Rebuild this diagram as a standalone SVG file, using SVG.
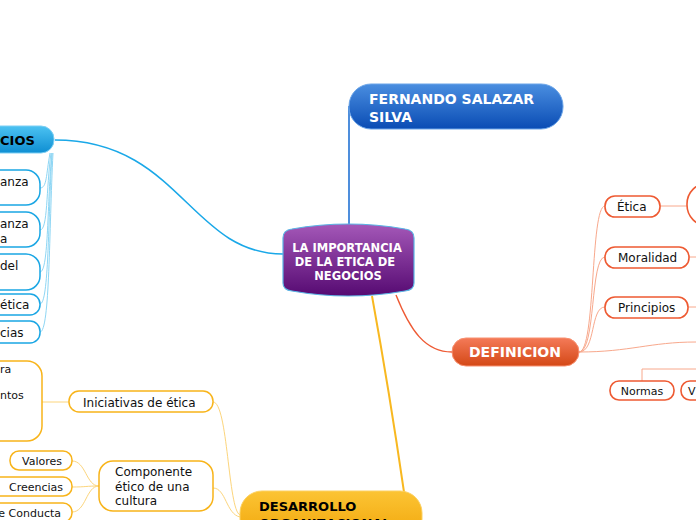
<svg xmlns="http://www.w3.org/2000/svg" width="696" height="520" viewBox="0 0 696 520">
<defs>
<linearGradient id="gPurple" x1="0" y1="0" x2="0" y2="1"><stop offset="0" stop-color="#a458b8"/><stop offset="1" stop-color="#560a72"/></linearGradient>
<linearGradient id="gBlue" x1="0" y1="0" x2="0" y2="1"><stop offset="0" stop-color="#4a8ee0"/><stop offset="1" stop-color="#0a4cb4"/></linearGradient>
<linearGradient id="gCyan" x1="0" y1="0" x2="0" y2="1"><stop offset="0" stop-color="#4cc2f2"/><stop offset="1" stop-color="#0e8ed2"/></linearGradient>
<linearGradient id="gOrange" x1="0" y1="0" x2="0" y2="1"><stop offset="0" stop-color="#f47a58"/><stop offset="1" stop-color="#d44816"/></linearGradient>
<linearGradient id="gYellow" x1="0" y1="0" x2="0" y2="1"><stop offset="0" stop-color="#fcc434"/><stop offset="1" stop-color="#f0a408"/></linearGradient>
</defs>
<style>
text{font-family:"DejaVu Sans","Liberation Sans",sans-serif;}
.w{fill:#fff;font-weight:bold;}
.k{fill:#000;font-weight:bold;}
.t{fill:#111;font-size:12px;}
.s{fill:#111;font-size:11px;}
.bc{fill:#fff;stroke:#1aa6e4;stroke-width:1.5;}
.bo{fill:#fff;stroke:#ee5a32;stroke-width:1.6;}
.by{fill:#fff;stroke:#f8b41a;stroke-width:1.5;}
.lc{fill:none;stroke:#8ed6f4;stroke-width:1;}
.lo{fill:none;stroke:#f8a88c;stroke-width:1;}
.ly{fill:none;stroke:#fcd57c;stroke-width:1;}
</style>
<g id="connectors">
<path d="M349,224 L349,106" fill="none" stroke="#2272d4" stroke-width="1.6"/>
<path d="M55,140 C180,140 190,254 283,254" fill="none" stroke="#1aa8e8" stroke-width="1.5"/>
<path d="M396,295 C410,330 425,352 452,352" fill="none" stroke="#ee5a34" stroke-width="1.4"/>
<path d="M372,296 C380,340 395,430 404,492" fill="none" stroke="#f8b820" stroke-width="2"/>
<path class="lc" d="M50,153 C46,175 47,188 40,188"/>
<path class="lc" d="M51,153 C46,190 48,230 40,230"/>
<path class="lc" d="M52,153 C47,200 49,272 40,272"/>
<path class="lc" d="M52,153 C48,220 49,304 40,304"/>
<path class="lc" d="M53,153 C49,230 50,332 40,332"/>
<path class="lo" d="M579,352 C596,352 590,206 605,206"/>
<path class="lo" d="M579,352 C596,352 590,257 605,257"/>
<path class="lo" d="M579,352 C596,352 590,307 605,307"/>
<path class="lo" d="M579,352 C630,352 650,342 696,342"/>
<path class="lo" d="M660,206 L687,206"/>
<path class="lo" d="M689,257 L696,257"/>
<path class="lo" d="M688,307 L696,307"/>
<path class="lo" d="M696,369 L642,369 L642,381"/>
<path class="ly" d="M42,402 L69,402"/>
<path class="ly" d="M213,402 C228,402 228,510 240,515"/>
<path class="ly" d="M213,488 C226,488 226,514 240,517"/>
<path class="ly" d="M72,461 C86,461 86,486 99,486"/>
<path class="ly" d="M72,487 C86,487 86,486 99,486"/>
<path class="ly" d="M72,512 C86,512 86,486 99,486"/>
</g>
<g id="central">
<path d="M283,238 Q283,230 292,229 Q348,219 405,229 Q414,230 414,238 L414,283 Q414,290 405,291 Q348,301 292,291 Q283,290 283,283 Z" fill="url(#gPurple)" stroke="#5ab4e4" stroke-width="1.2"/>
<text class="w" font-size="11.5" text-anchor="middle" x="347" y="252">LA IMPORTANCIA</text>
<text class="w" font-size="11.5" text-anchor="middle" x="345" y="266">DE LA ETICA DE</text>
<text class="w" font-size="11.5" text-anchor="middle" x="348" y="280">NEGOCIOS</text>
</g>
<g id="fernando">
<rect x="349" y="84" width="214" height="45" rx="22" fill="url(#gBlue)" stroke="#6aa4e8" stroke-width="1"/>
<text class="w" font-size="14" x="369" y="104">FERNANDO SALAZAR</text>
<text class="w" font-size="14" x="369" y="122">SILVA</text>
</g>
<g id="negocios">
<rect x="-30" y="126" width="84" height="27" rx="13" fill="url(#gCyan)" stroke="#7ccff4" stroke-width="1"/>
<text class="k" font-size="13" x="0" y="145">CIOS</text>
</g>
<g id="c1"><rect class="bc" x="-30" y="170" width="70" height="35" rx="14"/><text class="t" x="0" y="186">anza</text></g>
<g id="c2"><rect class="bc" x="-30" y="212" width="70" height="35" rx="14"/><text class="t" x="0" y="228">anza</text><text class="t" x="0" y="243">a</text></g>
<g id="c3"><rect class="bc" x="-30" y="254" width="70" height="36" rx="14"/><text class="t" x="0" y="270">del</text></g>
<g id="c4"><rect class="bc" x="-30" y="294" width="70" height="21" rx="10"/><text class="t" x="0" y="309">ética</text></g>
<g id="c5"><rect class="bc" x="-30" y="321" width="70" height="22" rx="10"/><text class="t" x="0" y="337">cias</text></g>
<g id="definicion">
<rect x="452" y="338" width="127" height="28" rx="14" fill="url(#gOrange)" stroke="#f89070" stroke-width="1"/>
<text class="w" font-size="14" text-anchor="middle" x="515" y="357">DEFINICION</text>
</g>
<g id="etica"><rect class="bo" x="605" y="196" width="55" height="21" rx="10"/><text class="t" x="617" y="211">Ética</text></g>
<g id="etica-child"><rect class="bo" x="687" y="183" width="60" height="43" rx="21"/></g>
<g id="moralidad"><rect class="bo" x="605" y="247" width="84" height="21" rx="10"/><text class="t" x="618" y="262">Moralidad</text></g>
<g id="principios"><rect class="bo" x="605" y="297" width="83" height="21" rx="10"/><text class="t" x="618" y="312">Principios</text></g>
<g id="normas"><rect class="bo" x="610" y="381" width="64" height="19" rx="9"/><text class="s" text-anchor="middle" x="642" y="395">Normas</text></g>
<g id="v"><rect class="bo" x="681" y="381" width="60" height="19" rx="9"/><text class="s" x="688" y="395">V</text></g>
<g id="desarrollo">
<rect x="240" y="491" width="182" height="50" rx="22" fill="url(#gYellow)" stroke="#fcd060" stroke-width="1"/>
<text class="k" font-size="13" x="259" y="511">DESARROLLO</text>
<text class="k" font-size="13" x="259" y="528">ORGANIZACIONAL</text>
</g>
<g id="iniciativas"><rect class="by" x="69" y="391" width="144" height="21" rx="10"/><text class="t" x="83" y="407">Iniciativas de ética</text></g>
<g id="big"><rect class="by" x="-40" y="361" width="82" height="80" rx="15"/><text class="s" x="0" y="373">ra</text><text class="s" x="0" y="399">ntos</text></g>
<g id="componente"><rect class="by" x="99" y="461" width="114" height="50" rx="14"/><text class="t" x="115" y="476">Componente</text><text class="t" x="115" y="491">ético de una</text><text class="t" x="115" y="505">cultura</text></g>
<g id="valores"><rect class="by" x="10" y="451" width="62" height="19" rx="9"/><text class="s" text-anchor="middle" x="42" y="465">Valores</text></g>
<g id="creencias"><rect class="by" x="-10" y="477" width="82" height="19" rx="9"/><text class="s" text-anchor="middle" x="36" y="491">Creencias</text></g>
<g id="conducta"><rect class="by" x="-30" y="503" width="102" height="19" rx="9"/><text class="s" text-anchor="end" x="61" y="517">de Conducta</text></g>
</svg>
